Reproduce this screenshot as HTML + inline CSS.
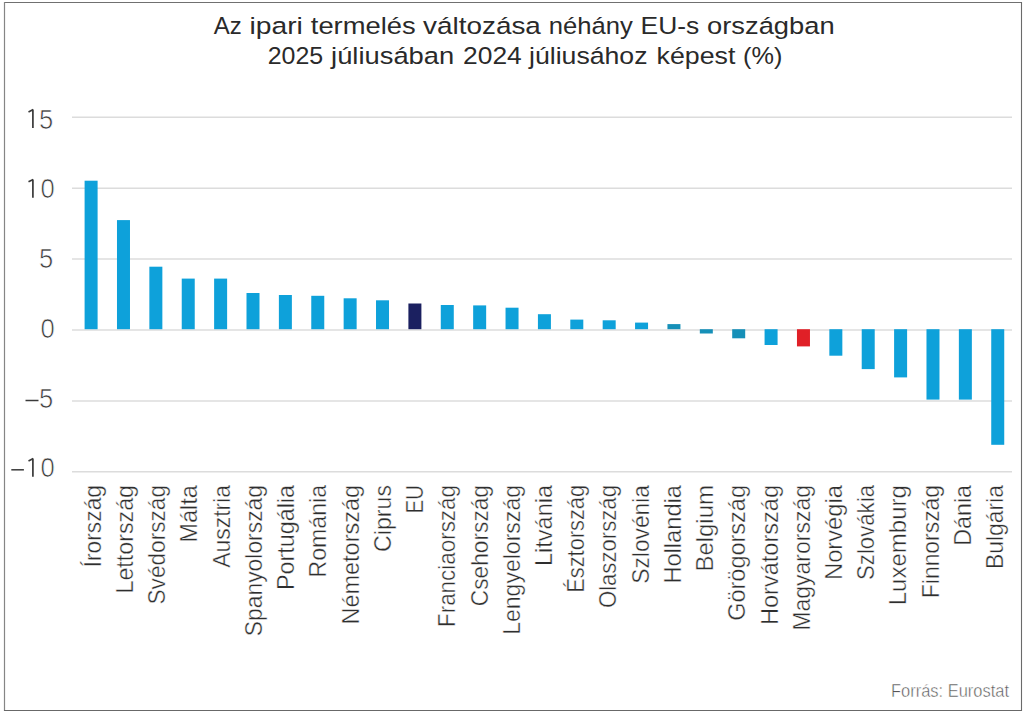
<!DOCTYPE html><html><head><meta charset="utf-8"><style>html,body{margin:0;padding:0;background:#fff;}svg{display:block;}text{font-family:"Liberation Sans",sans-serif;}</style></head><body>
<svg width="1024" height="712" viewBox="0 0 1024 712">
<rect x="0" y="0" width="1024" height="712" fill="#fff"/>
<line x1="4" y1="2.5" x2="1022" y2="2.5" stroke="#707070" stroke-width="1.1"/>
<line x1="4.5" y1="2" x2="4.5" y2="711" stroke="#858585" stroke-width="1.2"/>
<line x1="1021.5" y1="2" x2="1021.5" y2="711" stroke="#6a6a6a" stroke-width="1.1"/>
<line x1="4" y1="710.5" x2="1022" y2="710.5" stroke="#686868" stroke-width="1.2"/>
<text x="213.7" y="33.8" font-size="24.3" fill="#2a2a2a" textLength="28.0" lengthAdjust="spacingAndGlyphs">Az</text>
<text x="249.6" y="33.8" font-size="24.3" fill="#2a2a2a" textLength="53.3" lengthAdjust="spacingAndGlyphs">ipari</text>
<text x="310.8" y="33.8" font-size="24.3" fill="#2a2a2a" textLength="104.9" lengthAdjust="spacingAndGlyphs">termelés</text>
<text x="423.1" y="33.8" font-size="24.3" fill="#2a2a2a" textLength="117.8" lengthAdjust="spacingAndGlyphs">változása</text>
<text x="548.7" y="33.8" font-size="24.3" fill="#2a2a2a" textLength="84.0" lengthAdjust="spacingAndGlyphs">néhány</text>
<text x="640.6" y="33.8" font-size="24.3" fill="#2a2a2a" textLength="58.7" lengthAdjust="spacingAndGlyphs">EU-s</text>
<text x="707.1" y="33.8" font-size="24.3" fill="#2a2a2a" textLength="127.5" lengthAdjust="spacingAndGlyphs">országban</text>
<text x="267.7" y="63.6" font-size="24.3" fill="#2a2a2a" textLength="55.5" lengthAdjust="spacingAndGlyphs">2025</text>
<text x="331.1" y="63.6" font-size="24.3" fill="#2a2a2a" textLength="123.1" lengthAdjust="spacingAndGlyphs">júliusában</text>
<text x="463.1" y="63.6" font-size="24.3" fill="#2a2a2a" textLength="58.7" lengthAdjust="spacingAndGlyphs">2024</text>
<text x="529.0" y="63.6" font-size="24.3" fill="#2a2a2a" textLength="118.5" lengthAdjust="spacingAndGlyphs">júliusához</text>
<text x="656.6" y="63.6" font-size="24.3" fill="#2a2a2a" textLength="78.8" lengthAdjust="spacingAndGlyphs">képest</text>
<text x="743.0" y="63.6" font-size="24.3" fill="#2a2a2a" textLength="39.3" lengthAdjust="spacingAndGlyphs">(%)</text>
<line x1="72" y1="117.3" x2="1012" y2="117.3" stroke="#dcdcdc" stroke-width="1.5"/>
<line x1="72" y1="188.2" x2="1012" y2="188.2" stroke="#dcdcdc" stroke-width="1.5"/>
<line x1="72" y1="259.1" x2="1012" y2="259.1" stroke="#dcdcdc" stroke-width="1.5"/>
<line x1="72" y1="330.0" x2="1012" y2="330.0" stroke="#dcdcdc" stroke-width="1.5"/>
<line x1="72" y1="400.90000000000003" x2="1012" y2="400.90000000000003" stroke="#dcdcdc" stroke-width="1.5"/>
<line x1="72" y1="471.8" x2="1012" y2="471.8" stroke="#dcdcdc" stroke-width="1.5"/>
<text transform="translate(53.4,128.5) scale(0.95,1)" x="0" y="0" font-size="27" fill="#3a3a3a" stroke="#fff" stroke-width="0.7" text-anchor="end">5</text>
<path d="M32.9 109.5 V128.0 M33.199999999999996 109.6 L28.5 111.9" stroke="#3a3a3a" stroke-width="1.7" fill="none"/>
<text transform="translate(54.8,198.2) scale(0.95,1)" x="0" y="0" font-size="27" fill="#3a3a3a" stroke="#fff" stroke-width="0.7" text-anchor="end">0</text>
<path d="M32.9 179.4 V197.7 M33.199999999999996 179.5 L28.5 181.8" stroke="#3a3a3a" stroke-width="1.7" fill="none"/>
<text transform="translate(53.4,268.4) scale(0.95,1)" x="0" y="0" font-size="27" fill="#3a3a3a" stroke="#fff" stroke-width="0.7" text-anchor="end">5</text>
<text transform="translate(54.8,338.2) scale(0.95,1)" x="0" y="0" font-size="27" fill="#3a3a3a" stroke="#fff" stroke-width="0.7" text-anchor="end">0</text>
<text transform="translate(53.4,408.3) scale(0.95,1)" x="0" y="0" font-size="27" fill="#3a3a3a" stroke="#fff" stroke-width="0.7" text-anchor="end">5</text>
<line x1="25.5" y1="400.5" x2="38.5" y2="400.5" stroke="#3a3a3a" stroke-width="1.5"/>
<text transform="translate(54.8,477.3) scale(0.95,1)" x="0" y="0" font-size="27" fill="#3a3a3a" stroke="#fff" stroke-width="0.7" text-anchor="end">0</text>
<path d="M32.9 458.5 V476.8 M33.199999999999996 458.6 L28.5 460.9" stroke="#3a3a3a" stroke-width="1.7" fill="none"/>
<line x1="11.3" y1="469.8" x2="23.9" y2="469.8" stroke="#3a3a3a" stroke-width="1.5"/>
<rect x="84.60" y="180.70" width="13.0" height="148.50" fill="#0ea1da"/>
<rect x="116.98" y="220.10" width="13.0" height="109.10" fill="#0ea1da"/>
<rect x="149.36" y="266.70" width="13.0" height="62.50" fill="#0ea1da"/>
<rect x="181.74" y="278.60" width="13.0" height="50.60" fill="#0ea1da"/>
<rect x="214.12" y="278.60" width="13.0" height="50.60" fill="#0ea1da"/>
<rect x="246.50" y="293.00" width="13.0" height="36.20" fill="#0ea1da"/>
<rect x="278.88" y="295.00" width="13.0" height="34.20" fill="#0ea1da"/>
<rect x="311.26" y="295.80" width="13.0" height="33.40" fill="#0ea1da"/>
<rect x="343.64" y="298.30" width="13.0" height="30.90" fill="#0ea1da"/>
<rect x="376.02" y="300.30" width="13.0" height="28.90" fill="#0ea1da"/>
<rect x="408.40" y="303.50" width="13.0" height="25.70" fill="#1b2060"/>
<rect x="440.78" y="305.00" width="13.0" height="24.20" fill="#0ea1da"/>
<rect x="473.16" y="305.40" width="13.0" height="23.80" fill="#0ea1da"/>
<rect x="505.54" y="307.70" width="13.0" height="21.50" fill="#0ea1da"/>
<rect x="537.92" y="314.20" width="13.0" height="15.00" fill="#0ea1da"/>
<rect x="570.30" y="319.60" width="13.0" height="9.60" fill="#0ea1da"/>
<rect x="602.68" y="320.30" width="13.0" height="8.90" fill="#0ea1da"/>
<rect x="635.06" y="322.60" width="13.0" height="6.60" fill="#0ea1da"/>
<rect x="667.44" y="324.10" width="13.0" height="5.10" fill="#1690b8"/>
<rect x="699.82" y="329.20" width="13.0" height="4.30" fill="#1690b8"/>
<rect x="732.20" y="329.20" width="13.0" height="9.10" fill="#1690b8"/>
<rect x="764.58" y="329.20" width="13.0" height="15.80" fill="#0ea1da"/>
<rect x="796.96" y="329.20" width="13.0" height="17.20" fill="#e02027"/>
<rect x="829.34" y="329.20" width="13.0" height="26.50" fill="#0ea1da"/>
<rect x="861.72" y="329.20" width="13.0" height="39.90" fill="#0ea1da"/>
<rect x="894.10" y="329.20" width="13.0" height="48.20" fill="#0ea1da"/>
<rect x="926.48" y="329.20" width="13.0" height="70.40" fill="#0ea1da"/>
<rect x="958.86" y="329.20" width="13.0" height="70.40" fill="#0ea1da"/>
<rect x="991.24" y="329.20" width="13.0" height="115.60" fill="#0ea1da"/>
<text transform="translate(100.80,567.3) rotate(-90)" x="0" y="0" font-size="24" fill="#2e2e2e" stroke="#fff" stroke-width="0.4" textLength="82.3" lengthAdjust="spacingAndGlyphs">Írország</text>
<text transform="translate(133.03,593.5) rotate(-90)" x="0" y="0" font-size="24" fill="#2e2e2e" stroke="#fff" stroke-width="0.4" textLength="108.5" lengthAdjust="spacingAndGlyphs">Lettország</text>
<text transform="translate(165.25,604.5) rotate(-90)" x="0" y="0" font-size="24" fill="#2e2e2e" stroke="#fff" stroke-width="0.4" textLength="119.5" lengthAdjust="spacingAndGlyphs">Svédország</text>
<text transform="translate(197.48,542.8) rotate(-90)" x="0" y="0" font-size="24" fill="#2e2e2e" stroke="#fff" stroke-width="0.4" textLength="57.8" lengthAdjust="spacingAndGlyphs">Málta</text>
<text transform="translate(229.70,567.8) rotate(-90)" x="0" y="0" font-size="24" fill="#2e2e2e" stroke="#fff" stroke-width="0.4" textLength="82.8" lengthAdjust="spacingAndGlyphs">Ausztria</text>
<text transform="translate(261.93,636.2) rotate(-90)" x="0" y="0" font-size="24" fill="#2e2e2e" stroke="#fff" stroke-width="0.4" textLength="151.2" lengthAdjust="spacingAndGlyphs">Spanyolország</text>
<text transform="translate(294.15,590.0) rotate(-90)" x="0" y="0" font-size="24" fill="#2e2e2e" stroke="#fff" stroke-width="0.4" textLength="105.0" lengthAdjust="spacingAndGlyphs">Portugália</text>
<text transform="translate(326.38,577.5) rotate(-90)" x="0" y="0" font-size="24" fill="#2e2e2e" stroke="#fff" stroke-width="0.4" textLength="92.5" lengthAdjust="spacingAndGlyphs">Románia</text>
<text transform="translate(358.60,624.5) rotate(-90)" x="0" y="0" font-size="24" fill="#2e2e2e" stroke="#fff" stroke-width="0.4" textLength="139.5" lengthAdjust="spacingAndGlyphs">Németország</text>
<text transform="translate(390.83,551.9) rotate(-90)" x="0" y="0" font-size="24" fill="#2e2e2e" stroke="#fff" stroke-width="0.4" textLength="66.9" lengthAdjust="spacingAndGlyphs">Ciprus</text>
<text transform="translate(423.05,513.5) rotate(-90)" x="0" y="0" font-size="24" fill="#2e2e2e" stroke="#fff" stroke-width="0.4" textLength="28.5" lengthAdjust="spacingAndGlyphs">EU</text>
<text transform="translate(455.28,627.0) rotate(-90)" x="0" y="0" font-size="24" fill="#2e2e2e" stroke="#fff" stroke-width="0.4" textLength="142.0" lengthAdjust="spacingAndGlyphs">Franciaország</text>
<text transform="translate(487.50,606.2) rotate(-90)" x="0" y="0" font-size="24" fill="#2e2e2e" stroke="#fff" stroke-width="0.4" textLength="121.2" lengthAdjust="spacingAndGlyphs">Csehország</text>
<text transform="translate(519.73,634.8) rotate(-90)" x="0" y="0" font-size="24" fill="#2e2e2e" stroke="#fff" stroke-width="0.4" textLength="149.8" lengthAdjust="spacingAndGlyphs">Lengyelország</text>
<text transform="translate(551.95,566.0) rotate(-90)" x="0" y="0" font-size="24" fill="#2e2e2e" stroke="#fff" stroke-width="0.4" textLength="81.0" lengthAdjust="spacingAndGlyphs">Litvánia</text>
<text transform="translate(584.17,592.7) rotate(-90)" x="0" y="0" font-size="24" fill="#2e2e2e" stroke="#fff" stroke-width="0.4" textLength="107.7" lengthAdjust="spacingAndGlyphs">Észtország</text>
<text transform="translate(616.40,608.1) rotate(-90)" x="0" y="0" font-size="24" fill="#2e2e2e" stroke="#fff" stroke-width="0.4" textLength="123.1" lengthAdjust="spacingAndGlyphs">Olaszország</text>
<text transform="translate(648.62,583.7) rotate(-90)" x="0" y="0" font-size="24" fill="#2e2e2e" stroke="#fff" stroke-width="0.4" textLength="98.7" lengthAdjust="spacingAndGlyphs">Szlovénia</text>
<text transform="translate(680.85,583.7) rotate(-90)" x="0" y="0" font-size="24" fill="#2e2e2e" stroke="#fff" stroke-width="0.4" textLength="98.7" lengthAdjust="spacingAndGlyphs">Hollandia</text>
<text transform="translate(713.07,571.6) rotate(-90)" x="0" y="0" font-size="24" fill="#2e2e2e" stroke="#fff" stroke-width="0.4" textLength="86.6" lengthAdjust="spacingAndGlyphs">Belgium</text>
<text transform="translate(745.30,620.8) rotate(-90)" x="0" y="0" font-size="24" fill="#2e2e2e" stroke="#fff" stroke-width="0.4" textLength="135.8" lengthAdjust="spacingAndGlyphs">Görögország</text>
<text transform="translate(777.52,625.0) rotate(-90)" x="0" y="0" font-size="24" fill="#2e2e2e" stroke="#fff" stroke-width="0.4" textLength="140.0" lengthAdjust="spacingAndGlyphs">Horvátország</text>
<text transform="translate(809.75,630.6) rotate(-90)" x="0" y="0" font-size="24" fill="#2e2e2e" stroke="#fff" stroke-width="0.4" textLength="145.6" lengthAdjust="spacingAndGlyphs">Magyarország</text>
<text transform="translate(841.98,580.0) rotate(-90)" x="0" y="0" font-size="24" fill="#2e2e2e" stroke="#fff" stroke-width="0.4" textLength="95.0" lengthAdjust="spacingAndGlyphs">Norvégia</text>
<text transform="translate(874.20,580.0) rotate(-90)" x="0" y="0" font-size="24" fill="#2e2e2e" stroke="#fff" stroke-width="0.4" textLength="95.0" lengthAdjust="spacingAndGlyphs">Szlovákia</text>
<text transform="translate(906.42,605.3) rotate(-90)" x="0" y="0" font-size="24" fill="#2e2e2e" stroke="#fff" stroke-width="0.4" textLength="120.3" lengthAdjust="spacingAndGlyphs">Luxemburg</text>
<text transform="translate(938.65,598.1) rotate(-90)" x="0" y="0" font-size="24" fill="#2e2e2e" stroke="#fff" stroke-width="0.4" textLength="113.1" lengthAdjust="spacingAndGlyphs">Finnország</text>
<text transform="translate(970.88,545.7) rotate(-90)" x="0" y="0" font-size="24" fill="#2e2e2e" stroke="#fff" stroke-width="0.4" textLength="60.7" lengthAdjust="spacingAndGlyphs">Dánia</text>
<text transform="translate(1003.10,569.0) rotate(-90)" x="0" y="0" font-size="24" fill="#2e2e2e" stroke="#fff" stroke-width="0.4" textLength="84.0" lengthAdjust="spacingAndGlyphs">Bulgária</text>
<text x="891" y="696.7" font-size="17.5" fill="#555" stroke="#fff" stroke-width="0.45" textLength="118" lengthAdjust="spacingAndGlyphs">Forrás: Eurostat</text>
</svg></body></html>
